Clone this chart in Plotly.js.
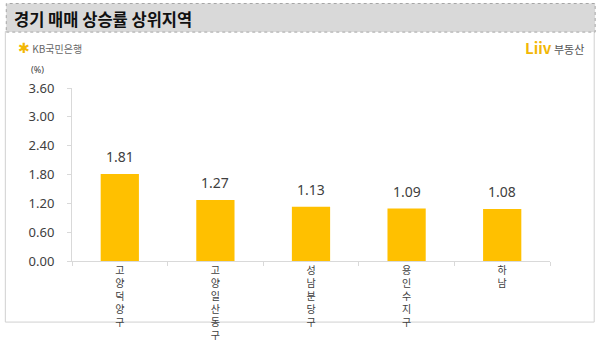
<!DOCTYPE html>
<html>
<head>
<meta charset="utf-8">
<script src="https://cdn.plot.ly/plotly-3.0.1.min.js"></script>
<style>
html,body{margin:0;padding:0;background:#fff;}
#chart{width:600px;height:356px;}
</style>
</head>
<body>
<div id="chart"></div>
<script>
// Data
const categories = ["고양 덕양구", "고양 일산동구", "성남 분당구", "용인 수지구", "하남"];
const values = [1.81, 1.27, 1.13, 1.09, 1.08];
const valueLabels = ["1.81", "1.27", "1.13", "1.09", "1.08"];
const yTickVals = [0, 0.6, 1.2, 1.8, 2.4, 3.0, 3.6];
const yTickText = ["0.00", "0.60", "1.20", "1.80", "2.40", "3.00", "3.60"];
const chartTitle = "경기 매매 상승률 상위지역";
const unitLabel = "(%)";

// vertical stacked category labels
const stacked = categories.map(c => c.replace(/\s+/g, "").split("").join("<br>"));

const FONT = "Noto Sans, Noto Sans CJK KR, sans-serif";
const KFONT = "Noto Sans CJK KR, Noto Sans, sans-serif";

const trace = {
  type: "bar",
  x: categories,
  y: values,
  marker: {color: "#FFC000"},
  hoverinfo: "none"
};

const annotations = categories.map((c, i) => ({
  x: c, y: values[i], xref: "x", yref: "y",
  text: valueLabels[i], showarrow: false,
  yanchor: "bottom", yshift: 6,
  font: {family: FONT, size: 14, color: "#404040"}
}));

annotations.push({
  xref: "paper", yref: "paper", x: -0.055, y: 1.055, xanchor: "right", yanchor: "bottom",
  text: unitLabel, showarrow: false,
  font: {family: FONT, size: 9, color: "#404040"}
});
// title
annotations.push({
  xref: "paper", yref: "paper", x: -0.125, xanchor: "left",
  y: 1.398, yanchor: "middle",
  text: "<b>" + chartTitle + "</b>", showarrow: false,
  font: {family: KFONT, size: 16.5, color: "#111"}
});
// KB logo
annotations.push({
  xref: "paper", yref: "paper", x: -0.118, xanchor: "left",
  y: 1.235, yanchor: "middle",
  text: "<span style='color:#F2B705;font-size:14px'>✱</span> <span style='color:#666'>KB국민은행</span>", showarrow: false,
  font: {family: KFONT, size: 10, color: "#666"}
});
// Liiv logo
annotations.push({
  xref: "paper", yref: "paper", x: 1.075, xanchor: "right",
  y: 1.235, yanchor: "middle",
  text: "<b><span style='color:#F2B705;font-size:15px'>Liiv</span></b> <span style='color:#555'>부동산</span>", showarrow: false,
  font: {family: KFONT, size: 11, color: "#555"}
});

const layout = {
  width: 600, height: 356,
  margin: {l: 72, r: 50, t: 88, b: 94.5, pad: 0},
  paper_bgcolor: "#fff", plot_bgcolor: "#fff",
  showlegend: false,
  bargap: 0.6,
  font: {family: FONT, color: "#404040"},
  xaxis: {
    type: "category",
    showline: true, linecolor: "#d9d9d9", linewidth: 1,
    ticks: "outside", tickson: "boundaries", ticklen: 4, tickcolor: "#d9d9d9",
    tickvals: categories, ticktext: stacked,
    tickfont: {family: KFONT, size: 10, color: "#404040"},
    showgrid: false, zeroline: false, fixedrange: true
  },
  yaxis: {
    range: [0, 3.6],
    tickvals: yTickVals, ticktext: yTickText,
    showline: true, linecolor: "#d9d9d9", linewidth: 1,
    ticks: "outside", ticklen: 4, tickcolor: "#d9d9d9",
    ticklabelstandoff: 10,
    tickfont: {family: FONT, size: 13, color: "#404040"},
    showgrid: false, zeroline: false, fixedrange: true
  },
  shapes: [
    {type: "rect", xref: "paper", yref: "paper", x0: -0.1395, x1: 1.0925, y0: -0.353, y1: 1.327,
     line: {color: "#d0d0d0", width: 1}, fillcolor: "rgba(0,0,0,0)", layer: "below"},
    {type: "rect", xref: "paper", yref: "paper", x0: -0.1375, x1: 1.0945, y0: 1.323, y1: 1.4884,
     line: {color: "#a6a6a6", width: 1, dash: "dot"}, fillcolor: "#d9d9d9", layer: "below"}
  ],
  annotations: annotations
};

Plotly.newPlot("chart", [trace], layout, {displayModeBar: false, staticPlot: true});
</script>
</body>
</html>
